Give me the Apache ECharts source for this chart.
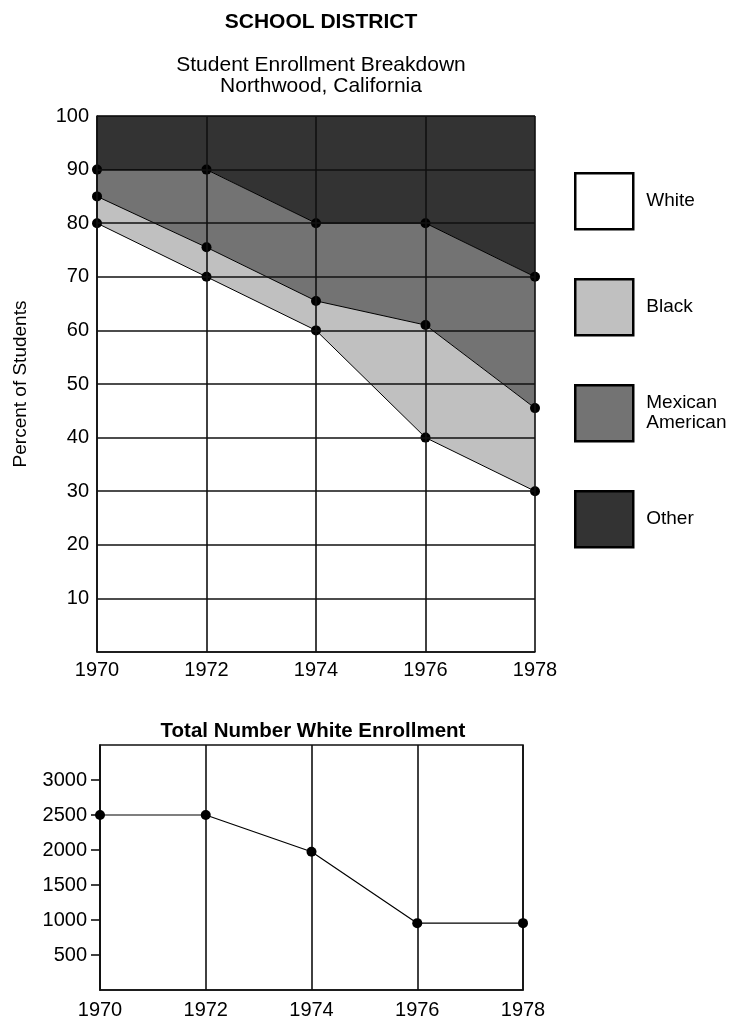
<!DOCTYPE html>
<html>
<head>
<meta charset="utf-8">
<script src="https://cdn.jsdelivr.net/npm/echarts@6/dist/echarts.min.js"></script>
<style>
  html, body { margin: 0; padding: 0; background: #fff; }
  #chart { width: 739px; height: 1020px; }
</style>
</head>
<body>
<div id="chart"></div>
<script>
// Enrollment years
const years = ['1970', '1972', '1974', '1976', '1978'];

// Share of students per group (percent), stacked bottom to top
const groups = ['White', 'Black', 'Mexican\nAmerican', 'Other'];
const whitePct = [80, 70, 60, 40, 30];
const blackPct = [5, 5.5, 5.5, 21, 15.5];
const mexicanPct = [5, 14.5, 14.5, 19, 24.5];
const otherPct = [10, 10, 20, 20, 30];
const groupColors = ['#ffffff', '#c0c0c0', '#737373', '#333333'];

// Percent axis labels
const pctTicks = [10, 20, 30, 40, 50, 60, 70, 80, 90, 100];

// Total white enrollment (head count)
const whiteTotal = [2500, 2500, 1975, 955, 955];
const totalTicks = [500, 1000, 1500, 2000, 2500, 3000];

const FONT = 'Liberation Sans, Arial, Helvetica, sans-serif';
const chart = echarts.init(document.getElementById('chart'), null, { renderer: 'canvas' });

const gridLine = { color: '#111', width: 1.6 };
const plain = v => String(v);

function areaSeries(name, values, idx) {
  return {
    name: name,
    type: 'line',
    stack: 'pct',
    xAxisIndex: 0,
    yAxisIndex: 0,
    data: values,
    z: 1,
    symbol: 'circle',
    symbolSize: 10,
    showSymbol: idx < 3,
    lineStyle: { color: '#000', width: 1 },
    itemStyle: { color: '#000' },
    areaStyle: { color: groupColors[idx], opacity: 1 },
    emphasis: { disabled: true },
    silent: true,
    animation: false
  };
}

const option = {
  animation: false,
  textStyle: { fontFamily: FONT, color: '#000' },
  title: [
    {
      text: 'SCHOOL DISTRICT',
      left: 316, top: 7, textAlign: 'center',
      textStyle: { fontFamily: FONT, fontSize: 21, fontWeight: 'bold', color: '#000' }
    },
    {
      text: 'Student Enrollment Breakdown\nNorthwood, California',
      left: 316, top: 50, textAlign: 'center',
      textStyle: { fontFamily: FONT, fontSize: 21, fontWeight: 'normal', lineHeight: 21, color: '#000' }
    },
    {
      text: 'Total Number White Enrollment',
      left: 308, top: 716, textAlign: 'center',
      textStyle: { fontFamily: FONT, fontSize: 20.5, fontWeight: 'bold', color: '#000' }
    }
  ],
  legend: {
    orient: 'vertical',
    left: 574,
    top: 172,
    padding: 0,
    icon: 'rect',
    itemWidth: 58,
    itemHeight: 56,
    itemGap: 47.5,
    selectedMode: false,
    itemStyle: { borderColor: '#000', borderWidth: 2.5 },
    textStyle: { fontFamily: FONT, fontSize: 19, color: '#000', lineHeight: 20, padding: [0, 0, 0, 8] },
    data: groups.map((g, i) => ({ name: g, itemStyle: { color: groupColors[i], borderColor: '#000', borderWidth: 2.5 } }))
  },
  grid: [
    { left: 97, right: 204, top: 116, height: 536 },
    { left: 100, right: 216, top: 745, height: 246, show: true, borderColor: '#111', borderWidth: 1.6 }
  ],
  xAxis: [
    {
      gridIndex: 0,
      type: 'category',
      data: years,
      boundaryGap: false,
      z: 5,
      axisLine: { show: true, lineStyle: gridLine },
      axisTick: { show: false },
      axisLabel: { fontFamily: FONT, fontSize: 20, color: '#000', margin: 8 },
      splitLine: { show: true, showMinLine: true, showMaxLine: true, lineStyle: gridLine }
    },
    {
      gridIndex: 1,
      type: 'category',
      data: years,
      boundaryGap: false,
      z: 5,
      axisLine: { show: true, lineStyle: gridLine },
      axisTick: { show: false },
      axisLabel: { fontFamily: FONT, fontSize: 20, color: '#000', margin: 10 },
      splitLine: { show: true, lineStyle: gridLine }
    }
  ],
  yAxis: [
    {
      gridIndex: 0,
      type: 'value',
      min: 0, max: 100, interval: 10,
      z: 5,
      name: 'Percent of Students',
      nameLocation: 'middle',
      nameGap: 67,
      nameRotate: 90,
      nameTextStyle: { fontFamily: FONT, fontSize: 19, color: '#000' },
      axisLine: { show: true, lineStyle: gridLine },
      axisTick: { show: false },
      axisLabel: {
        fontFamily: FONT, fontSize: 20, color: '#000', margin: 8,
        customValues: pctTicks, formatter: plain
      },
      splitLine: { show: true, showMinLine: true, showMaxLine: true, lineStyle: gridLine }
    },
    {
      gridIndex: 1,
      type: 'value',
      min: 0, max: 3500, interval: 500,
      z: 5,
      axisLine: { show: true, lineStyle: gridLine },
      axisTick: { show: true, inside: false, length: 9, lineStyle: gridLine, customValues: totalTicks },
      axisLabel: {
        fontFamily: FONT, fontSize: 20, color: '#000', margin: 13,
        customValues: totalTicks, formatter: plain
      },
      splitLine: { show: false }
    }
  ],
  series: [
    areaSeries(groups[0], whitePct, 0),
    areaSeries(groups[1], blackPct, 1),
    areaSeries(groups[2], mexicanPct, 2),
    areaSeries(groups[3], otherPct, 3),
    {
      name: 'White total',
      type: 'line',
      xAxisIndex: 1,
      yAxisIndex: 1,
      data: whiteTotal,
      z: 6,
      symbol: 'circle',
      symbolSize: 10,
      lineStyle: { color: '#000', width: 1.2 },
      itemStyle: { color: '#000' },
      emphasis: { disabled: true },
      silent: true
    }
  ]
};

chart.setOption(option);
</script>
</body>
</html>
